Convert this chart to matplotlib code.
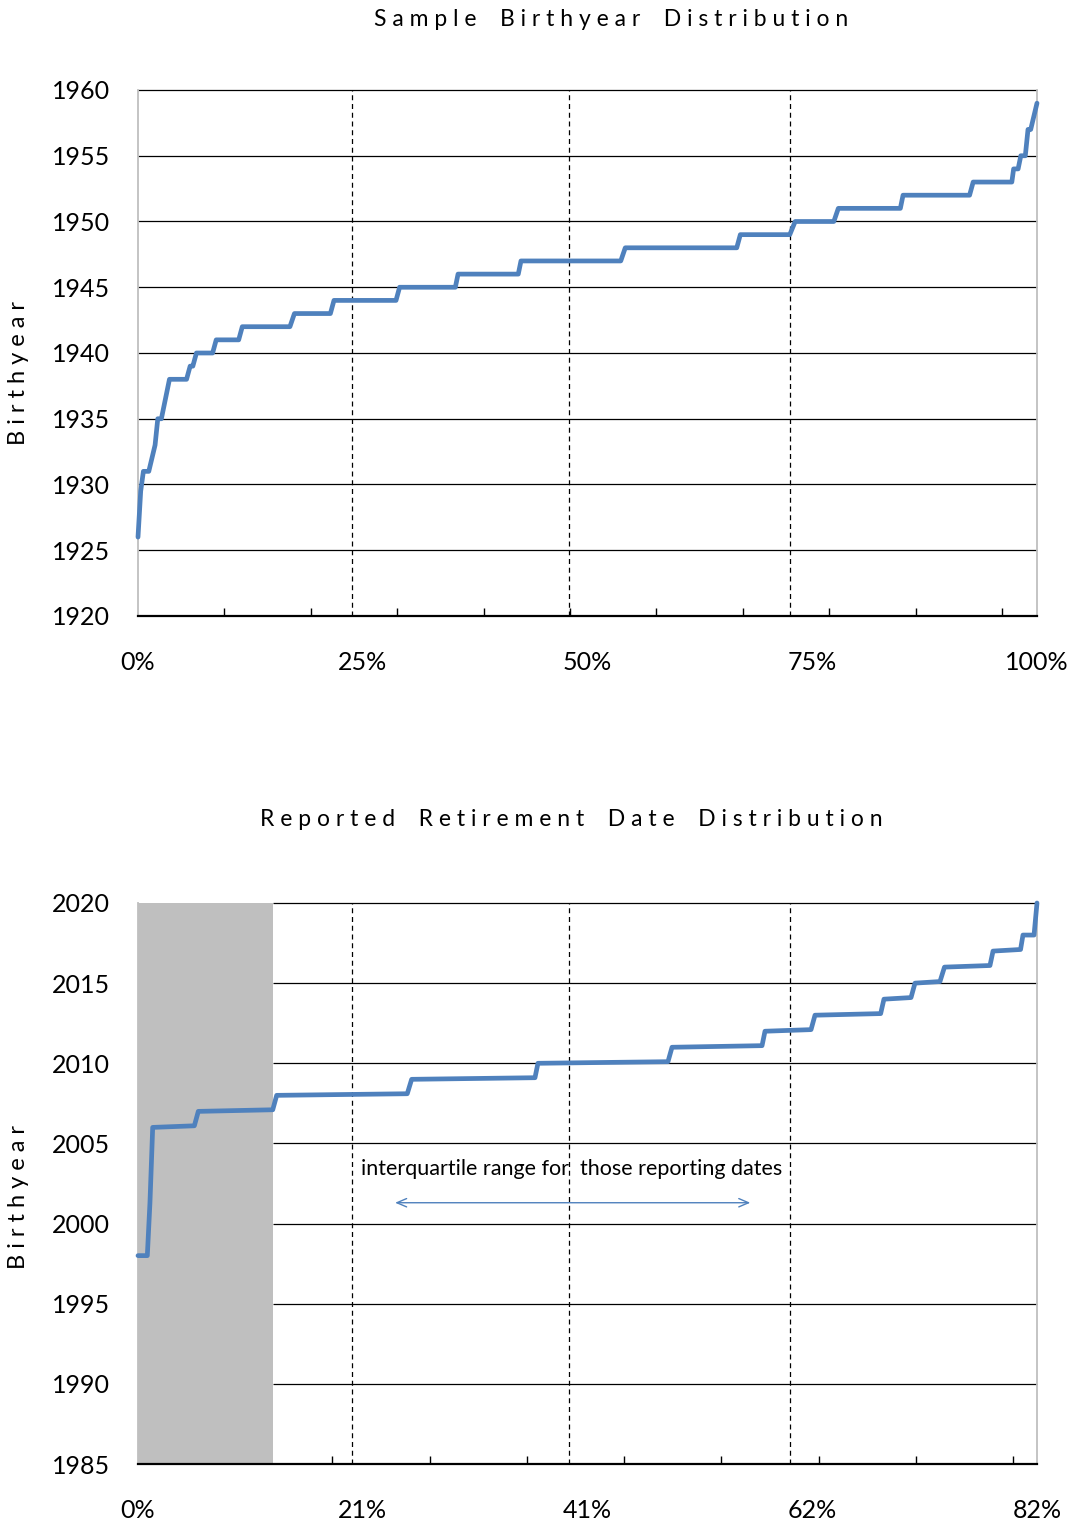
import matplotlib.pyplot as plt

plt.rcParams['font.family'] = ['Lato', 'DejaVu Sans']

BLUE = '#4F81BD'
GREY = '#BFBFBF'

# sample birthyear distribution: cumulative share of sample (%) -> birthyear
birth_pct = [0.0, 0.3, 0.6, 1.2, 1.9, 2.2, 2.6, 3.5, 5.4, 5.8, 6.1, 6.5, 8.3, 8.7,
             11.2, 11.6, 16.9, 17.4, 21.4, 21.8, 28.7, 29.1, 35.3, 35.6, 42.3, 42.6,
             53.7, 54.2, 66.6, 67.0, 72.5, 73.1, 77.4, 77.9, 84.8, 85.1, 92.5, 92.9,
             97.2, 97.4, 97.9, 98.2, 98.7, 99.0, 99.3, 100.0]
birth_year = [1926, 1929.5, 1931, 1931, 1933, 1935, 1935, 1938, 1938, 1939, 1939, 1940, 1940, 1941,
              1941, 1942, 1942, 1943, 1943, 1944, 1944, 1945, 1945, 1946, 1946, 1947,
              1947, 1948, 1948, 1949, 1949, 1950, 1950, 1951, 1951, 1952, 1952, 1953,
              1953, 1954, 1954, 1955, 1955, 1957, 1957, 1959]
birth_quartile_lines = [23.8, 47.9, 72.5]
birth_xlabels = ['0%', '25%', '50%', '75%', '100%']
birth_tick_step = 9.61

# reported retirement dates: cumulative share (%) -> retirement year
ret_pct = [0.0, 0.85, 1.09, 1.34, 5.14, 5.50, 12.29, 12.65, 24.56, 24.96, 36.21, 36.48,
           48.34, 48.71, 56.92, 57.19, 61.39, 61.75, 67.74, 68.04, 70.51, 70.87, 73.15,
           73.56, 77.71, 77.99, 80.50, 80.72, 81.73, 82.0]
ret_year = [1998.0, 1998.0, 2001.3, 2006.0, 2006.1, 2007.0, 2007.1, 2008.0, 2008.1, 2009.0,
            2009.1, 2010.0, 2010.1, 2011.0, 2011.1, 2012.0, 2012.1, 2013.0, 2013.1, 2014.0,
            2014.1, 2015.0, 2015.1, 2016.0, 2016.1, 2017.0, 2017.1, 2018.0, 2018.0, 2020.0]
ret_quartile_lines = [19.5, 39.3, 59.5]
ret_xlabels = ['0%', '21%', '41%', '62%', '82%']
ret_tick_step = 8.87
no_date_share = 12.3        # shaded block: no date reported
iqr_span = [23.2, 56.1]
iqr_y = 2001.3


def spaced(s):
    return ' '.join(s).replace('   ', '    ')


def setup(ax, xmax, ymin, ymax, xlabels, tick_step, grid_start=0):
    ax.set_xlim(0, xmax)
    ax.set_ylim(ymin, ymax)
    ax.hlines(range(ymin + 5, ymax + 1, 5), grid_start, xmax, color='black', lw=0.9,
              zorder=1, clip_on=False)
    ax.set_yticks(range(ymin, ymax + 1, 5))
    ax.tick_params(axis='y', length=0, pad=20, labelsize=18)
    ax.set_xticks([xmax * i / 4 for i in range(5)])
    ax.set_xticklabels(xlabels)
    ax.tick_params(axis='x', which='major', length=0, pad=25, labelsize=18)
    minor = []
    t = 0.0
    while t < xmax - 1:
        minor.append(t)
        t += tick_step
    ax.set_xticks(minor, minor=True)
    ax.tick_params(axis='x', which='minor', direction='in', length=6, width=1, color='black')
    ax.spines['top'].set_visible(False)
    for side in ['left', 'right']:
        ax.spines[side].set_color(GREY)
        ax.spines[side].set_linewidth(1.3)
    ax.spines['bottom'].set_color('black')
    ax.spines['bottom'].set_linewidth(1.6)
    ax.spines['bottom'].set_zorder(5)


fig = plt.figure(figsize=(10.78, 15.25), dpi=100)

# top panel
ax1 = fig.add_axes([138 / 1078, 1 - 616 / 1525, 899 / 1078, 526 / 1525])
setup(ax1, 100, 1920, 1960, birth_xlabels, birth_tick_step)
for q in birth_quartile_lines:
    ax1.axvline(q, color='black', lw=0.9, ls=(0, (4, 3)), zorder=3)
ax1.plot(birth_pct, birth_year, color=BLUE, lw=3.4, solid_joinstyle='round',
         solid_capstyle='round', zorder=4, clip_on=False)
fig.text(611 / 1078, 1 - 19 / 1525, spaced('Sample Birthyear Distribution'),
         ha='center', va='center', fontsize=16.5)
fig.text(19 / 1078, 1 - 373 / 1525, spaced('Birthyear'), rotation=90,
         ha='center', va='center', fontsize=17)

# bottom panel
ax2 = fig.add_axes([138 / 1078, 1 - 1464 / 1525, 899 / 1078, 561 / 1525])
setup(ax2, 82, 1985, 2020, ret_xlabels, ret_tick_step, grid_start=no_date_share)
ax2.axvspan(0, no_date_share, color=GREY, lw=0, zorder=2)
for q in ret_quartile_lines:
    ax2.axvline(q, color='black', lw=0.9, ls=(0, (4, 3)), zorder=3)
ax2.plot(ret_pct, ret_year, color=BLUE, lw=3.4, solid_joinstyle='round',
         solid_capstyle='round', zorder=4, clip_on=False)
ax2.text(20.3, 2003.4, 'interquartile range for  those reporting dates',
         ha='left', va='center', fontsize=15.5, zorder=5)
ax2.annotate('', xy=(iqr_span[1], iqr_y), xytext=(iqr_span[0], iqr_y),
             arrowprops=dict(arrowstyle='<->,head_length=0.7,head_width=0.3',
                             color=BLUE, lw=1), zorder=5)
fig.text(571 / 1078, 1 - 820 / 1525, spaced('Reported Retirement Date Distribution'),
         ha='center', va='center', fontsize=16.5)
fig.text(19 / 1078, 1 - 1197 / 1525, spaced('Birthyear'), rotation=90,
         ha='center', va='center', fontsize=17)

fig.savefig('out.png', dpi=100)
